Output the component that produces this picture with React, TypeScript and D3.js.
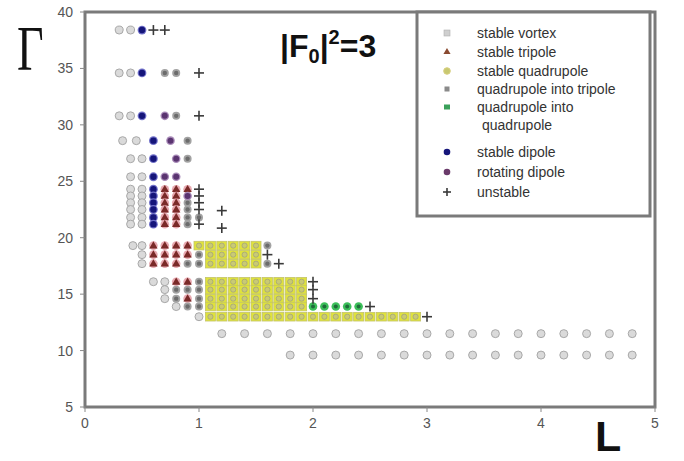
import React from "react";
import * as d3 from "d3";

type Pt = [number, number];

const xTicks = [0, 1, 2, 3, 4, 5];
const yTicks = [5, 10, 15, 20, 25, 30, 35, 40];

const stableVortex: Pt[] = [
  [0.3, 38.4], [0.4, 38.4],
  [0.3, 34.6], [0.4, 34.6],
  [0.3, 30.8], [0.4, 30.8],
  [0.33, 28.6], [0.45, 28.6],
  [0.4, 27.0], [0.5, 27.0],
  [0.4, 25.4], [0.5, 25.4],
  [0.4, 24.3], [0.5, 24.3], [0.4, 23.7], [0.5, 23.7], [0.4, 23.1], [0.5, 23.1],
  [0.4, 22.5], [0.5, 22.5], [0.4, 21.8], [0.5, 21.8], [0.4, 21.2], [0.5, 21.2],
  [0.42, 19.3], [0.5, 19.3], [0.5, 18.5], [0.5, 17.7],
  [0.6, 16.1], [0.7, 16.1], [0.7, 15.4], [0.7, 14.6], [0.8, 13.9], [1.0, 13.0],
  [1.2, 11.5], [1.4, 11.5], [1.6, 11.5], [1.8, 11.5], [2.0, 11.5], [2.2, 11.5], [2.4, 11.5],
  [2.6, 11.5], [2.8, 11.5], [3.0, 11.5], [3.2, 11.5], [3.4, 11.5], [3.6, 11.5], [3.8, 11.5],
  [4.0, 11.5], [4.2, 11.5], [4.4, 11.5], [4.6, 11.5], [4.8, 11.5],
  [1.8, 9.6], [2.0, 9.6], [2.2, 9.6], [2.4, 9.6], [2.6, 9.6], [2.8, 9.6], [3.0, 9.6], [3.2, 9.6],
  [3.4, 9.6], [3.6, 9.6], [3.8, 9.6], [4.0, 9.6], [4.2, 9.6], [4.4, 9.6], [4.6, 9.6], [4.8, 9.6],
];

const stableTripole: Pt[] = [
  [0.7, 24.3], [0.8, 24.3], [0.9, 24.3],
  [0.7, 23.7], [0.8, 23.7], [0.7, 23.1], [0.8, 23.1], [0.7, 22.5], [0.8, 22.5],
  [0.7, 21.8], [0.8, 21.8], [0.7, 21.2], [0.8, 21.2],
  [0.6, 19.3], [0.7, 19.3], [0.8, 19.3], [0.9, 19.3],
  [0.6, 18.5], [0.7, 18.5], [0.8, 18.5], [0.9, 18.5],
  [0.6, 17.7], [0.7, 17.7], [0.8, 17.7],
  [0.8, 16.1], [0.9, 16.1], [0.9, 14.6],
];

const stableQuadrupole: Pt[] = [
  [1.0, 19.3], [1.1, 19.3], [1.2, 19.3], [1.3, 19.3], [1.4, 19.3], [1.5, 19.3],
  [1.1, 18.5], [1.2, 18.5], [1.3, 18.5], [1.4, 18.5], [1.5, 18.5],
  [1.1, 17.7], [1.2, 17.7], [1.3, 17.7], [1.4, 17.7], [1.5, 17.7],
  [1.1, 16.1], [1.2, 16.1], [1.3, 16.1], [1.4, 16.1], [1.5, 16.1], [1.6, 16.1], [1.7, 16.1], [1.8, 16.1], [1.9, 16.1],
  [1.1, 15.4], [1.2, 15.4], [1.3, 15.4], [1.4, 15.4], [1.5, 15.4], [1.6, 15.4], [1.7, 15.4], [1.8, 15.4], [1.9, 15.4],
  [1.1, 14.6], [1.2, 14.6], [1.3, 14.6], [1.4, 14.6], [1.5, 14.6], [1.6, 14.6], [1.7, 14.6], [1.8, 14.6], [1.9, 14.6],
  [1.1, 13.9], [1.2, 13.9], [1.3, 13.9], [1.4, 13.9], [1.5, 13.9], [1.6, 13.9], [1.7, 13.9], [1.8, 13.9], [1.9, 13.9],
  [1.1, 13.0], [1.2, 13.0], [1.3, 13.0], [1.4, 13.0], [1.5, 13.0], [1.6, 13.0], [1.7, 13.0], [1.8, 13.0], [1.9, 13.0],
  [2.0, 13.0], [2.1, 13.0], [2.2, 13.0], [2.3, 13.0], [2.4, 13.0], [2.5, 13.0], [2.6, 13.0], [2.7, 13.0], [2.8, 13.0], [2.9, 13.0],
];

const quadIntoTripole: Pt[] = [
  [0.7, 34.6], [0.8, 34.6], [0.8, 30.8], [0.9, 28.6], [0.9, 27.0],
  [0.9, 23.1], [0.9, 22.5], [0.9, 21.8], [1.0, 21.8], [0.9, 21.2],
  [1.6, 19.3], [1.0, 18.5], [0.9, 17.7], [1.0, 17.7], [1.6, 17.7],
  [1.0, 16.1], [0.8, 15.4], [0.9, 15.4], [1.0, 15.4], [0.8, 14.6], [1.0, 14.6], [0.9, 13.9], [1.0, 13.9],
];

const quadIntoQuad: Pt[] = [
  [2.0, 13.9], [2.1, 13.9], [2.2, 13.9], [2.3, 13.9], [2.4, 13.9],
];

const stableDipole: Pt[] = [
  [0.5, 38.4], [0.5, 34.6], [0.5, 30.8], [0.6, 28.6], [0.6, 27.0], [0.6, 25.4],
  [0.6, 24.3], [0.6, 23.7], [0.6, 23.1], [0.6, 22.5], [0.6, 21.8], [0.6, 21.2],
];

const rotatingDipole: Pt[] = [
  [0.7, 30.8], [0.75, 28.6], [0.8, 27.0], [0.7, 25.4], [0.8, 25.4], [0.9, 23.7],
];

const unstable: Pt[] = [
  [0.6, 38.4], [0.7, 38.4], [1.0, 34.6], [1.0, 30.8],
  [1.0, 24.3], [1.0, 23.7], [1.0, 23.1], [1.0, 22.5], [1.0, 21.2],
  [1.2, 22.4], [1.2, 20.85],
  [1.6, 18.5], [1.7, 17.7],
  [2.0, 16.1], [2.0, 15.4], [2.0, 14.6], [2.5, 13.9], [3.0, 13.0],
];

const legendLabels = [
  "stable vortex",
  "stable tripole",
  "stable quadrupole",
  "quadrupole into tripole",
  "quadrupole into",
  "stable dipole",
  "rotating dipole",
  "unstable",
];

const W = 684;
const H = 461;
const x = d3.scaleLinear().domain([0, 5]).range([85, 655]);
const y = d3.scaleLinear().domain([5, 40]).range([407, 12]);
const tri = d3.symbol().type(d3.symbolTriangle).size(30)() as string;
const triSmall = d3.symbol().type(d3.symbolTriangle).size(22)() as string;

function Vortex({ cx, cy, r = 4 }: { cx: number; cy: number; r?: number }) {
  return <circle cx={cx} cy={cy} r={r} fill="#dadada" stroke="#a8a8a8" strokeWidth={1} />;
}
function Tripole({ cx, cy }: { cx: number; cy: number }) {
  return (
    <g transform={`translate(${cx},${cy})`}>
      <circle r={4.3} fill="#e7a9b0" />
      <path d={tri} fill="#7a2a28" transform="translate(0,0.5)" />
    </g>
  );
}
function Quad({ cx, cy }: { cx: number; cy: number }) {
  return (
    <g>
      <rect x={cx - 5} y={cy - 4.3} width={10} height={8.6} fill="#dfe23c" stroke="#c4c46a" strokeWidth={0.8} />
      <circle cx={cx} cy={cy} r={2.6} fill="#c9ca74" stroke="#9e9e80" strokeWidth={0.7} />
    </g>
  );
}
function QT({ cx, cy }: { cx: number; cy: number }) {
  return (
    <g>
      <circle cx={cx} cy={cy} r={4} fill="#a2a2a2" />
      <circle cx={cx} cy={cy} r={2.2} fill="#6c6c6c" />
    </g>
  );
}
function QQ({ cx, cy }: { cx: number; cy: number }) {
  return (
    <g>
      <circle cx={cx} cy={cy} r={4.3} fill="#3cbf5a" />
      <circle cx={cx} cy={cy} r={2} fill="#1e6b3a" />
    </g>
  );
}
function Dipole({ cx, cy }: { cx: number; cy: number }) {
  return (
    <g>
      <circle cx={cx} cy={cy} r={4.4} fill="#6f6fc8" />
      <circle cx={cx} cy={cy} r={3.2} fill="#15157a" />
    </g>
  );
}
function Rot({ cx, cy }: { cx: number; cy: number }) {
  return (
    <g>
      <circle cx={cx} cy={cy} r={4.3} fill="#a88ab8" />
      <circle cx={cx} cy={cy} r={3} fill="#5a3470" />
    </g>
  );
}
function Plus({ cx, cy, s = 5 }: { cx: number; cy: number; s?: number }) {
  return (
    <g stroke="#3a3a3a" strokeWidth={1.6}>
      <line x1={cx - s} x2={cx + s} y1={cy} y2={cy} />
      <line x1={cx} x2={cx} y1={cy - s} y2={cy + s} />
    </g>
  );
}

export default function App() {
  const font = "Liberation Sans, Arial, sans-serif";
  const legendRows = [33, 52, 71, 89, 107, 152, 172, 192];
  const lx = 447;
  return (
    <svg width={W} height={H} style={{ position: "absolute", left: 0, top: 0, background: "#fff" }}>
      <rect width={W} height={H} fill="#fff" />
      {/* frame */}
      <rect x={x(0)} y={y(40)} width={x(5) - x(0)} height={y(5) - y(40)} fill="none" stroke="#7a7a7a" strokeWidth={3} />
      {/* ticks */}
      {yTicks.map((t) => (
        <g key={"y" + t}>
          <line x1={x(0) - 5} x2={x(0)} y1={y(t)} y2={y(t)} stroke="#888" strokeWidth={1} />
          <text x={73} y={y(t) + 5} textAnchor="end" fontSize={14} fill="#555" fontFamily={font}>{t}</text>
        </g>
      ))}
      {xTicks.map((t) => (
        <g key={"x" + t}>
          <line x1={x(t)} x2={x(t)} y1={y(5)} y2={y(5) + 5} stroke="#888" strokeWidth={1} />
          <text x={x(t)} y={428} textAnchor="middle" fontSize={14} fill="#555" fontFamily={font}>{t}</text>
        </g>
      ))}
      {/* markers */}
      {stableVortex.map(([a, b], i) => <Vortex key={"v" + i} cx={x(a)} cy={y(b)} />)}
      {stableQuadrupole.map(([a, b], i) => <Quad key={"q" + i} cx={x(a)} cy={y(b)} />)}
      {stableTripole.map(([a, b], i) => <Tripole key={"t" + i} cx={x(a)} cy={y(b)} />)}
      {quadIntoTripole.map(([a, b], i) => <QT key={"qt" + i} cx={x(a)} cy={y(b)} />)}
      {quadIntoQuad.map(([a, b], i) => <QQ key={"qq" + i} cx={x(a)} cy={y(b)} />)}
      {stableDipole.map(([a, b], i) => <Dipole key={"d" + i} cx={x(a)} cy={y(b)} />)}
      {rotatingDipole.map(([a, b], i) => <Rot key={"r" + i} cx={x(a)} cy={y(b)} />)}
      {unstable.map(([a, b], i) => <Plus key={"u" + i} cx={x(a)} cy={y(b)} />)}

      {/* title */}
      <text x={280} y={57} fontSize={32} fontWeight="bold" fill="#111" fontFamily={font}>
        |F<tspan fontSize={20} dy={6}>0</tspan><tspan dy={-6}>|</tspan><tspan fontSize={20} dy={-13}>2</tspan><tspan dy={13}>=3</tspan>
      </text>

      {/* axis titles */}
      <text x={0} y={0} fontSize={46} fill="#111" fontFamily="Liberation Serif, Times New Roman, serif" transform="translate(17,70) scale(1,1.4)">Γ</text>
      <text x={595} y={451} fontSize={43} fontWeight="bold" fill="#111" fontFamily={font}>L</text>

      {/* legend */}
      <rect x={417} y={12} width={233} height={204} fill="#fff" stroke="#7a7a7a" strokeWidth={3} />
      <rect x={lx - 3} y={legendRows[0] - 3} width={6} height={6} fill="#cfcfcf" stroke="#b0b0b0" strokeWidth={0.6} />
      <path d={triSmall} transform={`translate(${lx},${legendRows[1]})`} fill="#8a4a30" />
      <circle cx={lx} cy={legendRows[2]} r={3.3} fill="#c8c870" stroke="#d8d080" />
      <rect x={lx - 2.5} y={legendRows[3] - 2.5} width={5} height={5} fill="#8a8a8a" />
      <rect x={lx - 3} y={legendRows[4] - 2.5} width={6} height={5} fill="#3aa05a" />
      <circle cx={lx} cy={legendRows[5]} r={3.3} fill="#15157a" />
      <circle cx={lx} cy={legendRows[6]} r={3.3} fill="#6a3a6a" />
      <Plus cx={lx} cy={legendRows[7]} s={4} />
      {legendLabels.map((l, i) => (
        <text key={l} x={477} y={legendRows[i] + 5} fontSize={14} fill="#333" fontFamily={font}>{l}</text>
      ))}
      <text x={482} y={130} fontSize={14} fill="#333" fontFamily={font}>quadrupole</text>
    </svg>
  );
}
